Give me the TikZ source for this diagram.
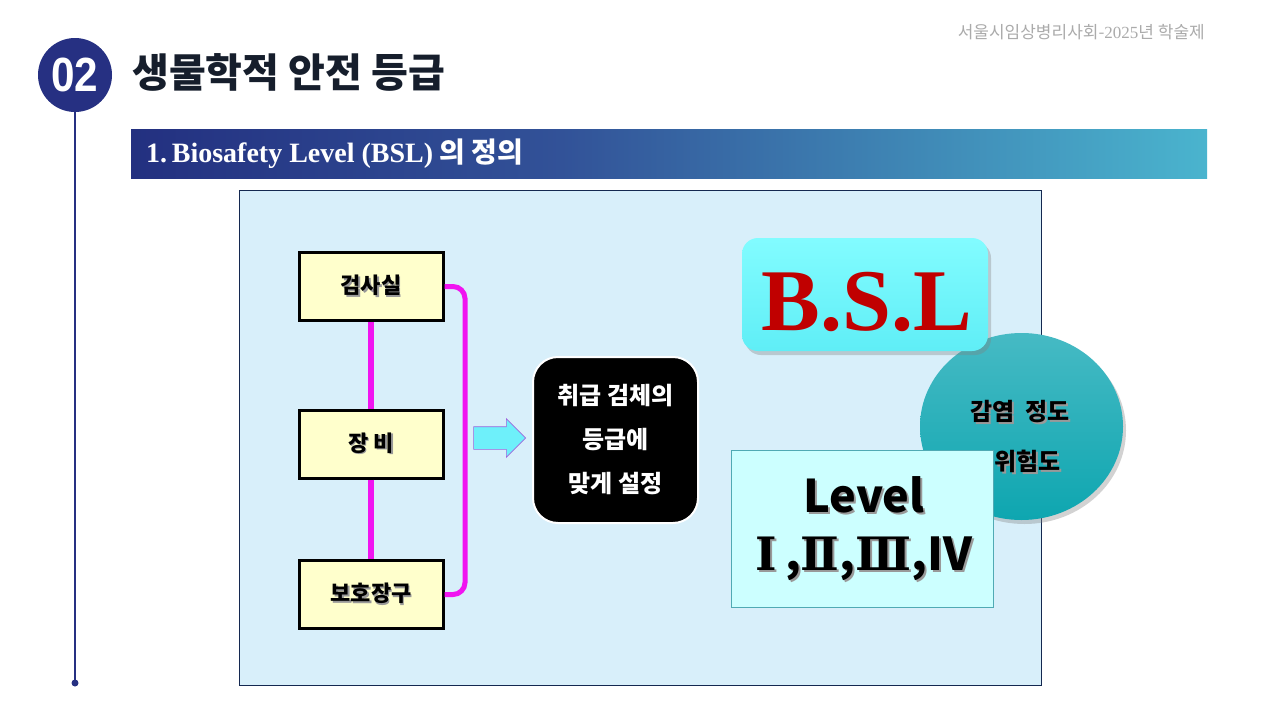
\documentclass[tikz,border=0pt]{standalone}
\usepackage{fontspec}
\setmainfont{Noto Sans CJK KR}
\newfontfamily\latinserif{Liberation Serif}
\newfontfamily\latinsans{Liberation Sans}
\newfontfamily\romanfont{DejaVu Serif}
\usetikzlibrary{shapes.arrows,shadows}
\definecolor{navy}{RGB}{38,48,130}
\definecolor{titlecol}{RGB}{22,30,44}
\definecolor{panelfill}{RGB}{216,239,250}
\definecolor{panelline}{RGB}{20,40,80}
\definecolor{boxfill}{RGB}{255,255,204}
\definecolor{mag}{RGB}{240,20,240}
\definecolor{arrfill}{RGB}{110,240,250}
\definecolor{arrline}{RGB}{160,100,220}
\definecolor{bsltop}{RGB}{130,252,255}
\definecolor{bslbot}{RGB}{95,238,246}
\definecolor{bslred}{RGB}{192,0,0}
\definecolor{circtop}{RGB}{70,186,196}
\definecolor{circbot}{RGB}{14,166,176}
\definecolor{lvlfill}{RGB}{204,255,255}
\definecolor{lvlline}{RGB}{80,170,180}
\definecolor{bannerL}{RGB}{35,48,128}
\definecolor{bannerM}{RGB}{50,82,152}
\definecolor{bannerR}{RGB}{74,180,206}
\pgfdeclarehorizontalshading{banner}{100bp}{color(0bp)=(bannerL); color(25bp)=(bannerL); color(45bp)=(bannerM); color(75bp)=(bannerR); color(100bp)=(bannerR)}
\newcommand\shd[2][1.5pt]{\leavevmode\rlap{\hspace{#1}\raisebox{-#1}{\textcolor{black!40}{#2}}}#2}
\tikzset{
  itembox/.style={draw=black, line width=3pt, fill=boxfill, minimum width=144pt, minimum height=68pt, inner sep=0pt, font=\bfseries\fontsize{22}{24}\selectfont},
  magline/.style={draw=mag, line width=6pt},
}
\begin{document}
\begin{tikzpicture}[x=1pt,y=-1pt]
\useasboundingbox (0,0) rectangle (1280,720);
\fill[white] (0,0) rectangle (1280,720);
% header
\draw[navy, line width=1.3pt] (75,100) -- (75,683);
\fill[navy] (75,683) circle (3.5);
\node[circle, fill=navy, minimum size=74pt, inner sep=0pt, text=white, font=\latinsans\bfseries\fontsize{48}{50}\selectfont] (num) at (75,75) {\scalebox{0.88}[1]{02}};
\node[anchor=west, inner sep=0pt, text=titlecol, font=\bfseries\fontsize{40}{44}\selectfont] (title) at (132,72) {생물학적 안전 등급};
\node[anchor=east, inner sep=0pt, text=black!33, font=\fontsize{17}{19}\selectfont] (org) at (1205,32) {서울시임상병리사회-{\latinserif 2025}년 학술제};
% banner
\shade[shading=banner] (131,129) rectangle (1207,178);
\node[anchor=west, inner sep=0pt, text=white, font=\bfseries\fontsize{28}{30}\selectfont] (sub) at (146,154) {{\latinserif 1.\,Biosafety Level (BSL)} 의 정의};
% panel
\draw[panelline, fill=panelfill, line width=0.8pt] (239,190) rectangle (1041,685);
% item boxes
\node[itembox] (b1) at (371,286.5) {\shd{검사실}};
\node[itembox] (b2) at (371,444) {\shd{장 비}};
\node[itembox] (b3) at (371,594.5) {\shd{보호장구}};
\draw[magline] (b1.south) -- (b2.north);
\draw[magline] (b2.south) -- (b3.north);
\coordinate (brk) at (465,440);
\draw[draw=mag, line width=5pt, rounded corners=12pt] (b1.east) -| (brk) |- (b3.east);
% arrow
\node[single arrow, draw=arrline, fill=arrfill, line width=0.6pt, minimum height=52pt, minimum width=38pt, single arrow head extend=8pt, inner sep=11pt, single arrow tip angle=90] (arr) at (494,438) {};
% black box
\node[draw=white, line width=2pt, fill=black, rounded corners=25pt, minimum width=165pt, minimum height=166pt, text=white, align=center, font=\bfseries\fontsize{24}{44}\selectfont] (act) at (615.5,440) {취급 검체의\\등급에\\맞게 설정};
% circle
\shade[top color=circtop, bottom color=circbot, drop shadow={shadow xshift=3pt, shadow yshift=-4pt, opacity=0.35}] (1021.5,426.5) ellipse (101.5 and 93.5);
\node[align=center, inner sep=0pt, font=\bfseries\fontsize{24}{50}\selectfont] (risk) at (1020,439) {\shd[2pt]{감염\hspace{0.45em}정도}\\\shd[2pt]{/ 위험도}};
% BSL box
\shade[top color=bsltop, bottom color=bslbot, rounded corners=16pt, drop shadow={shadow xshift=3pt, shadow yshift=-4pt, opacity=0.35}] (742,238) rectangle (988,351);
\node[text=bslred, inner sep=0pt, font=\latinserif\bfseries\fontsize{88}{90}\selectfont] (bsl) at (867,302) {B.S.L};
% level box
\draw[lvlline, fill=lvlfill, line width=0.8pt] (731,450) rectangle (993,607);
\node[align=center, inner sep=0pt, font=\bfseries\fontsize{45}{58}\selectfont] (lvl) at (864,530) {\shd[2pt]{Level}\\\shd[2pt]{{\romanfont\fontsize{46}{58}\selectfont Ⅰ\,},{\romanfont\fontsize{46}{58}\selectfont Ⅱ},{\romanfont\fontsize{46}{58}\selectfont Ⅲ},Ⅳ}};
\end{tikzpicture}
\end{document}
